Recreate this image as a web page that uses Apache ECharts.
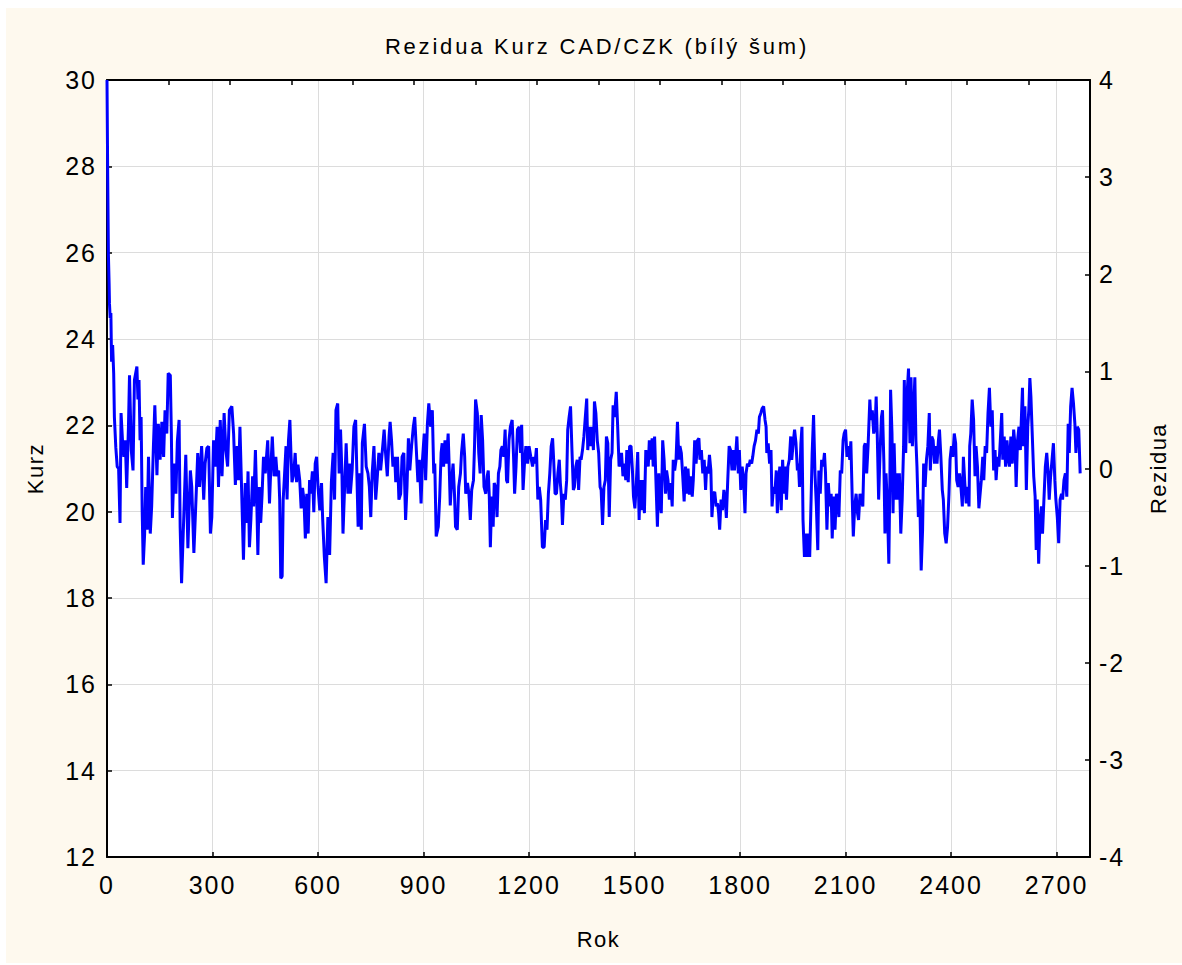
<!DOCTYPE html>
<html>
<head>
<meta charset="utf-8">
<script src="https://cdn.jsdelivr.net/npm/echarts@6/dist/echarts.min.js"></script>
<style>
  html, body { margin: 0; padding: 0; background: #ffffff; }
  #chart { width: 1182px; height: 965px; }
</style>
</head>
<body>
<div id="chart"></div>
<script>
// ---- data ----
const chartTitle = 'Rezidua Kurz CAD/CZK (bílý šum)';
const xName = 'Rok';
const yLeftName = 'Kurz';
const yRightName = 'Rezidua';
const xRange = [0, 2795];
const xStep = 300;
const kurzRange = [12, 30];
const kurzStep = 2;
const reziduaRange = [-4, 4];
const reziduaStep = 1;

// [Rok, Rezidua]
const rezidua = [
  [0,4.0],[2,3.0],[4,2.2],[6,1.9],[7,1.7],[9,1.55],[11,1.6],[13,1.1],[16,1.27],[19,0.98],
  [21,0.53],[25,0.22],[29,0.02],[33,0.0],[37,-0.56],[40,0.57],[44,0.29],[48,0.12],[52,0.29],[56,-0.2],
  [61,0.43],[64,0.96],[69,0.19],[74,-0.02],[78,0.91],[85,1.05],[88,0.71],[91,0.91],[94,0.29],[97,0.53],
  [100,-0.43],[103,-0.99],[107,-0.67],[110,-0.19],[114,-0.63],[118,0.12],[123,-0.67],[127,-0.39],[132,0.23],[136,0.65],
  [142,-0.07],[146,0.46],[151,0.09],[156,0.48],[161,0.12],[165,0.6],[170,0.36],[174,0.98],[180,0.96],[183,0.36],
  [186,-0.51],[191,0.05],[196,-0.26],[200,0.28],[205,0.5],[208,-0.6],[212,-1.18],[218,-0.53],[224,0.14],[230,-0.82],
  [237,-0.02],[241,-0.19],[247,-0.87],[253,-0.32],[258,0.16],[263,-0.19],[269,0.23],[275,-0.32],[279,0.05],[284,0.21],
  [289,0.23],[294,-0.67],[298,-0.5],[303,0.29],[308,0.02],[313,0.43],[317,-0.19],[322,0.5],[327,-0.08],[333,0.57],
  [338,0.19],[343,0.02],[348,0.6],[355,0.64],[360,0.36],[365,-0.17],[370,0.23],[374,-0.12],[378,0.43],[384,-0.39],
  [388,-0.94],[393,-0.15],[397,-0.56],[401,-0.03],[405,-0.81],[409,-0.53],[414,-0.08],[417,-0.39],[422,0.19],[426,-0.36],
  [429,-0.89],[433,-0.19],[437,-0.56],[441,-0.26],[445,0.12],[450,-0.05],[457,0.29],[462,-0.36],[466,0.02],[470,0.33],
  [475,-0.08],[480,0.12],[484,-0.08],[488,-0.02],[491,-0.32],[494,-1.13],[498,-1.11],[501,-0.32],[505,-0.05],[509,0.23],
  [512,-0.32],[516,0.29],[520,0.5],[523,0.16],[526,-0.14],[531,-0.05],[535,0.16],[539,-0.14],[543,0.04],[548,-0.12],
  [552,-0.41],[556,-0.2],[560,-0.32],[564,-0.72],[568,-0.26],[572,-0.67],[576,-0.12],[579,-0.26],[584,-0.03],[588,-0.45],
  [592,0.05],[596,0.12],[600,-0.19],[605,-0.43],[610,-0.15],[613,-0.5],[618,-0.91],[623,-1.18],[628,-0.5],[633,-0.89],
  [638,-0.14],[643,0.16],[647,-0.32],[651,0.6],[656,0.67],[660,-0.05],[664,0.4],[668,-0.05],[671,-0.67],[675,-0.26],
  [680,0.26],[685,-0.26],[689,0.05],[692,-0.26],[697,-0.02],[702,0.43],[707,0.5],[710,0.02],[714,-0.6],[718,-0.05],
  [723,-0.63],[726,0.26],[732,0.46],[737,0.02],[742,-0.05],[746,-0.19],[750,-0.5],[754,-0.05],[759,0.23],[764,-0.32],
  [768,-0.12],[773,0.16],[778,-0.02],[783,0.19],[788,0.4],[792,0.16],[797,-0.08],[802,0.33],[805,0.48],[809,0.29],
  [813,0.02],[818,0.12],[821,-0.14],[826,0.12],[830,-0.32],[835,-0.26],[839,0.12],[844,0.16],[849,-0.53],[853,-0.19],
  [857,0.31],[861,-0.02],[866,0.23],[871,0.43],[875,0.53],[879,0.23],[884,-0.14],[888,0.09],[893,-0.36],[897,0.09],
  [902,0.36],[906,-0.12],[911,0.46],[915,0.67],[920,0.43],[925,0.6],[929,-0.05],[932,0.05],[936,-0.7],[942,-0.6],
  [946,-0.29],[950,0.16],[953,0.26],[957,0.02],[961,0.29],[965,0.05],[970,0.36],[973,0.02],[976,-0.38],[980,-0.12],
  [984,0.05],[988,-0.26],[991,-0.6],[996,-0.63],[1000,-0.19],[1005,-0.05],[1008,0.16],[1013,0.36],[1017,0.12],[1020,-0.26],
  [1025,-0.15],[1029,-0.26],[1033,-0.53],[1037,-0.22],[1042,-0.12],[1045,0.23],[1048,0.71],[1053,0.57],[1057,0.16],[1061,-0.05],
  [1064,0.55],[1068,0.29],[1072,-0.19],[1077,-0.26],[1081,-0.08],[1084,-0.02],[1087,-0.29],[1090,-0.81],[1094,-0.29],[1098,-0.6],
  [1101,-0.15],[1105,-0.19],[1109,-0.5],[1113,-0.05],[1117,0.02],[1120,0.19],[1124,0.23],[1128,0.12],[1132,0.4],[1136,-0.12],
  [1139,-0.15],[1143,0.29],[1147,0.43],[1152,0.5],[1156,0.12],[1159,-0.26],[1163,0.02],[1167,0.4],[1172,0.43],[1176,0.16],
  [1179,0.45],[1183,-0.22],[1187,0.05],[1191,0.23],[1196,0.05],[1200,0.23],[1205,0.12],[1210,0.02],[1214,0.12],[1217,0.05],
  [1221,0.21],[1225,-0.32],[1229,-0.19],[1233,-0.32],[1238,-0.81],[1243,-0.81],[1247,-0.53],[1251,-0.63],[1255,-0.26],[1259,-0.05],
  [1263,0.23],[1267,0.31],[1270,0.09],[1274,-0.26],[1278,-0.26],[1282,-0.05],[1286,0.09],[1289,-0.15],[1292,-0.29],[1295,-0.58],
  [1299,-0.26],[1303,-0.32],[1307,-0.12],[1310,0.4],[1314,0.53],[1318,0.64],[1322,0.19],[1326,-0.22],[1329,-0.19],[1333,0.02],
  [1337,0.09],[1341,-0.22],[1345,0.12],[1348,0.09],[1352,0.19],[1356,0.33],[1360,0.53],[1364,0.72],[1367,0.19],[1371,0.43],
  [1375,0.23],[1379,0.43],[1383,0.19],[1386,0.69],[1390,0.57],[1394,0.29],[1398,0.16],[1402,-0.19],[1405,-0.22],[1409,-0.58],
  [1413,-0.19],[1417,-0.12],[1420,0.33],[1424,0.26],[1428,-0.5],[1432,0.09],[1436,0.16],[1439,0.65],[1443,0.53],[1448,0.79],
  [1452,0.43],[1456,0.02],[1459,0.05],[1463,0.16],[1467,-0.08],[1471,0.05],[1475,-0.12],[1478,0.19],[1482,-0.14],[1486,0.23],
  [1490,0.23],[1494,-0.02],[1497,-0.29],[1501,-0.41],[1505,-0.15],[1509,0.17],[1513,-0.53],[1516,-0.12],[1520,-0.43],[1524,-0.12],
  [1528,-0.46],[1532,0.19],[1535,0.09],[1539,0.02],[1542,0.29],[1546,0.09],[1550,0.31],[1553,0.02],[1557,0.33],[1561,-0.15],
  [1565,-0.6],[1569,-0.05],[1572,-0.32],[1576,-0.46],[1580,0.29],[1584,0.09],[1588,-0.26],[1591,-0.02],[1595,-0.12],[1599,-0.32],
  [1603,-0.15],[1607,-0.39],[1610,0.09],[1614,-0.02],[1618,0.09],[1622,0.48],[1626,0.09],[1629,0.23],[1633,0.16],[1637,-0.08],
  [1641,-0.34],[1645,0.02],[1648,-0.26],[1652,0.0],[1656,-0.27],[1660,-0.08],[1664,-0.29],[1667,-0.12],[1671,0.29],[1675,0.05],
  [1679,0.29],[1683,0.31],[1686,0.09],[1690,0.19],[1694,-0.05],[1698,0.09],[1702,-0.22],[1705,0.02],[1709,-0.05],[1713,0.14],
  [1717,-0.02],[1720,-0.5],[1724,-0.26],[1728,-0.24],[1732,-0.39],[1736,-0.36],[1739,-0.46],[1742,-0.63],[1746,-0.32],[1750,-0.43],
  [1754,-0.22],[1758,-0.32],[1761,-0.51],[1765,-0.12],[1769,0.23],[1773,0.19],[1777,-0.02],[1780,0.19],[1784,-0.02],[1788,0.16],
  [1791,0.33],[1795,-0.05],[1798,0.19],[1802,-0.22],[1806,0.02],[1810,-0.12],[1814,-0.46],[1817,-0.05],[1821,0.05],[1825,0.02],
  [1829,0.09],[1833,0.05],[1836,0.12],[1840,0.23],[1844,0.29],[1848,0.4],[1852,0.36],[1855,0.53],[1859,0.57],[1863,0.62],
  [1867,0.64],[1871,0.5],[1874,0.43],[1876,0.16],[1880,0.26],[1884,0.05],[1888,0.19],[1891,-0.39],[1895,-0.19],[1899,-0.26],
  [1903,-0.02],[1906,-0.46],[1909,-0.19],[1913,0.02],[1917,-0.43],[1921,0.09],[1925,-0.26],[1928,0.02],[1932,-0.32],[1936,0.02],
  [1940,0.09],[1944,0.33],[1947,0.09],[1951,0.26],[1955,0.4],[1959,0.26],[1963,-0.02],[1966,0.05],[1969,-0.19],[1973,0.26],
  [1976,0.43],[1979,-0.53],[1983,-0.91],[1986,-0.67],[1990,-0.91],[1994,-0.67],[1998,-0.91],[2002,-0.32],[2005,0.16],[2009,0.55],
  [2013,-0.05],[2017,-0.39],[2021,-0.84],[2024,-0.02],[2028,-0.26],[2032,0.09],[2036,0.02],[2040,0.16],[2043,-0.05],[2047,-0.63],
  [2051,-0.15],[2055,-0.39],[2059,-0.26],[2062,-0.72],[2066,-0.29],[2070,-0.63],[2074,-0.26],[2078,-0.32],[2081,-0.5],[2085,-0.02],
  [2089,-0.05],[2093,0.29],[2096,0.36],[2100,0.4],[2104,0.12],[2108,0.23],[2112,0.09],[2115,0.28],[2119,-0.32],[2122,-0.7],
  [2126,-0.39],[2130,-0.26],[2134,-0.46],[2137,-0.53],[2141,-0.26],[2145,-0.32],[2149,-0.39],[2153,0.23],[2156,0.26],[2160,-0.05],
  [2164,0.23],[2169,0.71],[2172,0.5],[2176,0.6],[2180,0.36],[2184,0.43],[2187,0.74],[2190,0.36],[2194,-0.32],[2198,0.16],
  [2202,0.53],[2205,0.6],[2209,0.05],[2212,-0.67],[2215,-0.05],[2219,-0.39],[2223,-0.98],[2226,-0.12],[2228,0.81],[2232,0.36],
  [2235,-0.46],[2238,0.26],[2242,-0.32],[2246,-0.05],[2249,-0.32],[2253,-0.05],[2257,-0.67],[2261,-0.32],[2265,0.23],[2267,0.91],
  [2271,0.16],[2275,0.77],[2279,1.03],[2283,0.26],[2286,0.94],[2290,0.23],[2294,0.64],[2297,0.94],[2300,0.29],[2303,0.02],
  [2307,-0.5],[2311,-0.32],[2315,-1.05],[2319,-0.63],[2322,0.05],[2326,-0.19],[2330,0.09],[2334,0.23],[2338,0.57],[2341,-0.02],
  [2345,0.33],[2349,0.29],[2353,0.05],[2357,0.23],[2360,0.05],[2364,0.29],[2367,0.4],[2371,0.12],[2375,-0.22],[2378,-0.32],
  [2382,-0.67],[2386,-0.77],[2390,-0.6],[2394,-0.26],[2397,0.09],[2401,0.23],[2405,0.12],[2409,0.36],[2413,0.26],[2416,-0.12],
  [2420,-0.19],[2424,-0.05],[2428,-0.19],[2432,-0.39],[2435,0.12],[2439,-0.15],[2443,-0.36],[2447,-0.19],[2451,-0.39],[2453,0.23],
  [2456,0.36],[2460,0.71],[2464,0.5],[2468,-0.08],[2471,0.23],[2475,0.02],[2479,-0.41],[2486,-0.12],[2490,0.12],[2493,-0.12],
  [2497,0.23],[2501,0.16],[2505,0.57],[2509,0.83],[2513,0.43],[2517,0.6],[2521,-0.02],[2525,0.19],[2528,-0.12],[2532,0.12],
  [2536,0.02],[2540,0.29],[2544,0.57],[2547,0.09],[2551,0.33],[2555,0.02],[2559,0.29],[2563,0.09],[2566,0.02],[2570,0.33],
  [2574,0.05],[2578,0.4],[2582,0.23],[2585,-0.19],[2589,0.29],[2593,0.43],[2597,0.19],[2599,0.43],[2603,0.83],[2606,0.23],
  [2610,0.64],[2614,-0.22],[2618,0.43],[2621,0.6],[2624,0.93],[2627,0.74],[2631,0.33],[2635,-0.08],[2639,-0.29],[2642,-0.84],
  [2645,-0.32],[2649,-0.98],[2653,-0.53],[2657,-0.39],[2660,-0.67],[2664,-0.32],[2668,0.02],[2672,0.16],[2676,-0.05],[2679,-0.32],
  [2683,-0.08],[2687,0.09],[2691,0.26],[2695,-0.12],[2698,-0.32],[2702,-0.5],[2706,-0.77],[2710,-0.32],[2714,-0.26],[2717,-0.32],
  [2721,-0.12],[2725,-0.05],[2729,-0.29],[2733,0.46],[2736,0.16],[2740,0.64],[2744,0.83],[2748,0.67],[2752,0.46],[2755,0.16],
  [2759,0.43],[2763,0.4],[2767,-0.05]
];

// ---- chart ----
const FONT = '"Liberation Sans", Arial, sans-serif';
const chart = echarts.init(document.getElementById('chart'), null, { renderer: 'svg' });

const axisLineStyle = { color: '#000000', width: 2 };
const tickStyle = { color: '#000000', width: 1.5 };

chart.setOption({
  animation: false,
  backgroundColor: '#ffffff',
  graphic: [
    { type: 'rect', z: -100, silent: true,
      shape: { x: 6, y: 8, width: 1176, height: 955 },
      style: { fill: '#fef9ee' } },
    { type: 'text', z: 10, silent: true, x: 597, y: 46,
      style: { text: chartTitle, fill: '#000000', font: '22px ' + FONT,
               textAlign: 'center', textVerticalAlign: 'middle' } }
  ],
  grid: {
    left: 107, top: 80, width: 983, height: 777,
    show: true, backgroundColor: '#ffffff', borderWidth: 0
  },
  xAxis: [
    {
      type: 'value', position: 'bottom',
      min: xRange[0], max: xRange[1], interval: xStep,
      name: xName, nameLocation: 'middle', nameGap: 71,
      nameTextStyle: { color: '#000', fontSize: 22, fontFamily: FONT },
      axisLine: { show: true, onZero: false, lineStyle: axisLineStyle },
      axisTick: { show: true, inside: true, length: 5, lineStyle: tickStyle },
      axisLabel: { color: '#000', fontSize: 25, fontFamily: FONT, margin: 15,
                   showMaxLabel: false,
                   formatter: v => (v % xStep === 0 ? String(v) : '') },
      splitLine: { show: true, lineStyle: { color: '#dcdcdc', width: 1 } }
    },
    {
      type: 'value', position: 'top',
      min: 0, max: 16, interval: 1,
      axisLine: { show: true, onZero: false, lineStyle: axisLineStyle },
      axisTick: { show: true, inside: true, length: 5, lineStyle: tickStyle },
      axisLabel: { show: false },
      splitLine: { show: false }
    }
  ],
  yAxis: [
    {
      type: 'value', position: 'left',
      min: kurzRange[0], max: kurzRange[1], interval: kurzStep,
      name: yLeftName, nameLocation: 'middle', nameGap: 61, nameRotate: 90,
      nameTextStyle: { color: '#000', fontSize: 22, fontFamily: FONT },
      axisLine: { show: true, onZero: false, lineStyle: axisLineStyle },
      axisTick: { show: true, inside: true, length: 5, lineStyle: tickStyle },
      axisLabel: { color: '#000', fontSize: 25, fontFamily: FONT, margin: 10 },
      splitLine: { show: true, lineStyle: { color: '#dcdcdc', width: 1 } }
    },
    {
      type: 'value', position: 'right',
      min: reziduaRange[0], max: reziduaRange[1], interval: reziduaStep,
      name: yRightName, nameLocation: 'middle', nameGap: 57, nameRotate: 90,
      nameTextStyle: { color: '#000', fontSize: 22, fontFamily: FONT },
      axisLine: { show: true, onZero: false, lineStyle: axisLineStyle },
      axisTick: { show: true, inside: true, length: 5, lineStyle: tickStyle },
      axisLabel: { color: '#000', fontSize: 25, fontFamily: FONT, margin: 9 },
      splitLine: { show: false }
    }
  ],
  series: [
    {
      type: 'line',
      xAxisIndex: 0, yAxisIndex: 1,
      data: rezidua,
      showSymbol: false, symbol: 'none',
      lineStyle: { color: '#0000ff', width: 3 },
      itemStyle: { color: '#0000ff' },
      z: 5
    }
  ]
});

function spaceText() {
  document.querySelectorAll('#chart svg text').forEach(t => {
    const s = t.textContent || '';
    let ls = 2;
    if (s === chartTitle) ls = 2.8;
    else if (s === xName || s === yLeftName || s === yRightName) ls = 1.5;
    t.style.letterSpacing = ls + 'px';
  });
}
chart.on('finished', spaceText);
spaceText();
setTimeout(spaceText, 30);
</script>
</body>
</html>
